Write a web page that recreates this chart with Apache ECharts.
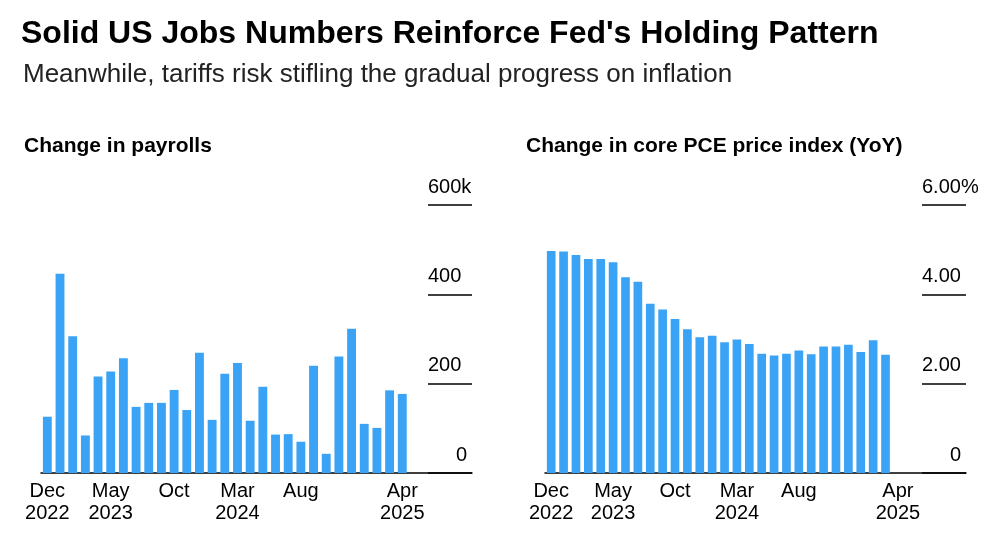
<!DOCTYPE html>
<html>
<head>
<meta charset="utf-8">
<script src="https://cdn.jsdelivr.net/npm/echarts@6/dist/echarts.min.js"></script>
<style>
html, body { margin: 0; padding: 0; background: #fff; }
#chart { width: 1000px; height: 545px; }
</style>
</head>
<body>
<div id="chart"></div>
<script>
// months Dec 2022 .. Sep 2025 (axis runs past the data)
var months = [];
var monthNames = ['Jan','Feb','Mar','Apr','May','Jun','Jul','Aug','Sep','Oct','Nov','Dec'];
for (var i = 0; i < 34; ++i) {
    var m = (11 + i) % 12;
    var y = 2022 + Math.floor((11 + i) / 12);
    months.push(monthNames[m] + ' ' + y);
}
var labelIdx = [0, 5, 10, 15, 20, 28];
var labelText = ['Dec\n2022', 'May\n2023', 'Oct', 'Mar\n2024', 'Aug', 'Apr\n2025'];

// change in payrolls, thousands (Dec 2022 .. Apr 2025)
var payrolls = [126, 446, 306, 84, 216, 227, 257, 148, 157, 157, 186, 141, 269, 119, 222,
                246, 117, 193, 86, 87, 70, 240, 43, 261, 323, 110, 101, 185, 177];
// core PCE YoY, % (Dec 2022 .. Mar 2025)
var pce = [4.97, 4.96, 4.88, 4.79, 4.79, 4.72, 4.38, 4.28, 3.79, 3.66, 3.45, 3.22, 3.04, 3.07,
           2.93, 2.99, 2.89, 2.67, 2.63, 2.67, 2.74, 2.66, 2.83, 2.83, 2.87, 2.71, 2.97, 2.65];

var FONT = 'Liberation Sans';
var BLUE = '#3aa3f5';

function xAxisFor(grid) {
    return {
        type: 'category', gridIndex: grid, data: months,
        axisLine: { lineStyle: { color: '#000', width: 1.5 } },
        axisTick: { alignWithLabel: true, lineStyle: { color: '#000', width: 1.5 }, length: 6,
                    interval: function (i) { return labelIdx.indexOf(i) >= 0; } },
        axisLabel: {
            interval: function (i) { return labelIdx.indexOf(i) >= 0; },
            formatter: function (v, i) { return labelText[labelIdx.indexOf(i)]; },
            color: '#000', fontFamily: FONT, fontSize: 20, lineHeight: 22, margin: 7
        }
    };
}
function yAxisFor(grid, max, interval, fmt) {
    return {
        type: 'value', gridIndex: grid, position: 'right', min: 0, max: max, interval: interval,
        axisLine: { show: false }, splitLine: { show: false },
        axisTick: { show: true, inside: true, length: 44, lineStyle: { color: '#000', width: 1.5 } },
        axisLabel: {
            inside: true, formatter: fmt, verticalAlign: 'bottom', align: 'left', margin: 44,
            padding: [0, 0, 8, 0], color: '#000', fontFamily: FONT, fontSize: 20,
            rich: { z: { fontFamily: FONT, fontSize: 20, color: '#000', padding: [0, 0, 0, 28] } }
        }
    };
}

var chart = echarts.init(document.getElementById('chart'));
var yL = yAxisFor(0, 600, 200, function (v) { return v === 0 ? '{z|0}' : v === 600 ? '600k' : String(v); });
var yR = yAxisFor(1, 6, 2, function (v) { return v === 0 ? '{z|0}' : v === 6 ? '6.00%' : v.toFixed(2); });

chart.setOption({
    animation: false,
    title: [
        { text: "Solid US Jobs Numbers Reinforce Fed's Holding Pattern", left: 16, top: 13,
          textStyle: { fontFamily: FONT, fontSize: 32, fontWeight: 'bold', color: '#000' } },
        { text: 'Meanwhile, tariffs risk stifling the gradual progress on inflation', left: 18, top: 57,
          textStyle: { fontFamily: FONT, fontSize: 26, fontWeight: 'normal', color: '#222' } },
        { text: 'Change in payrolls', left: 19, top: 131,
          textStyle: { fontFamily: FONT, fontSize: 21, fontWeight: 'bold', color: '#000' } },
        { text: 'Change in core PCE price index (YoY)', left: 521, top: 131,
          textStyle: { fontFamily: FONT, fontSize: 21, fontWeight: 'bold', color: '#000' } }
    ],
    grid: [
        { left: 41, width: 431, top: 205, height: 268 },
        { left: 545, width: 421, top: 205, height: 268 }
    ],
    xAxis: [xAxisFor(0), xAxisFor(1)],
    yAxis: [yL, yR],
    series: [
        { type: 'bar', xAxisIndex: 0, yAxisIndex: 0, data: payrolls, barCategoryGap: '30%',
          itemStyle: { color: BLUE } },
        { type: 'bar', xAxisIndex: 1, yAxisIndex: 1, data: pce, barCategoryGap: '30%',
          itemStyle: { color: BLUE } }
    ]
});
</script>
</body>
</html>
